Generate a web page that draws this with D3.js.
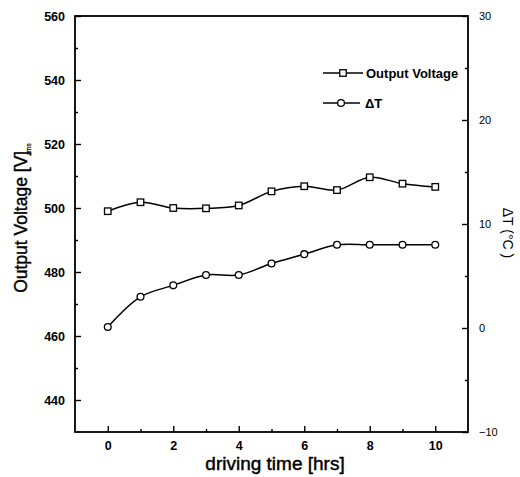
<!DOCTYPE html>
<html>
<head>
<meta charset="utf-8">
<script src="https://cdn.jsdelivr.net/npm/d3@7"></script>
<style>
  html, body { margin: 0; padding: 0; background: #fff; }
  svg { display: block; }
  text { font-family: "Liberation Sans", Arial, sans-serif; fill: #000; }
</style>
</head>
<body>
<svg id="chart" width="520" height="477"></svg>
<script>
// Driving time (hours)
const hours = [0, 1, 2, 3, 4, 5, 6, 7, 8, 9, 10];
// Output voltage, V rms (left axis)
const outputVoltage = [499.0, 501.8, 500.0, 499.9, 500.8, 505.2, 506.8, 505.6, 509.6, 507.6, 506.6];
// Temperature rise, °C (right axis)
const deltaT = [0.1, 3.0, 4.1, 5.1, 5.1, 6.2, 7.1, 8.0, 8.0, 8.0, 8.0];

const xTicks = [0, 2, 4, 6, 8, 10];
const xMinor = [1, 3, 5, 7, 9];
const yLeftTicks = [440, 460, 480, 500, 520, 540, 560];
const yLeftMinor = [450, 470, 490, 510, 530, 550];
const yRightTicks = [-10, 0, 10, 20, 30];
const yRightMinor = [-5, 5, 15, 25];

const svg = d3.select("#chart");

const x = d3.scaleLinear().domain([-1, 11]).range([75, 468]);
const yL = d3.scaleLinear().domain([430, 560]).range([432, 16]);
const yR = d3.scaleLinear().domain([-10, 30]).range([432, 16]);

const [x0, x1] = x.range();
const [yb, yt] = yL.range();

// plot frame
svg.append("rect")
  .attr("x", x0).attr("y", yt).attr("width", x1 - x0).attr("height", yb - yt)
  .attr("fill", "none").attr("stroke", "#000").attr("stroke-width", 1.8);

// bottom axis, ticks pointing inward
const gx = svg.append("g").attr("transform", `translate(0,${yb})`)
  .call(d3.axisBottom(x).tickValues(xTicks).tickSize(-6).tickPadding(9).tickFormat(d3.format("d")));
svg.append("g").attr("transform", `translate(0,${yb})`)
  .call(d3.axisBottom(x).tickValues(xMinor).tickSize(-3).tickFormat(""));

// left axis
const gyl = svg.append("g").attr("transform", `translate(${x0},0)`)
  .call(d3.axisLeft(yL).tickValues(yLeftTicks).tickSize(-6).tickPadding(10).tickFormat(d3.format("d")));
svg.append("g").attr("transform", `translate(${x0},0)`)
  .call(d3.axisLeft(yL).tickValues(yLeftMinor).tickSize(-3).tickFormat(""));

// right axis
const gyr = svg.append("g").attr("transform", `translate(${x1},0)`)
  .call(d3.axisRight(yR).tickValues(yRightTicks).tickSize(-6).tickPadding(11).tickFormat(d3.format("d")));
svg.append("g").attr("transform", `translate(${x1},0)`)
  .call(d3.axisRight(yR).tickValues(yRightMinor).tickSize(-3).tickFormat(""));

svg.selectAll(".domain").remove();
svg.selectAll(".tick line").attr("stroke", "#000").attr("stroke-width", 1.4);
svg.selectAll(".tick text").attr("fill", "#000");
gx.selectAll(".tick text").style("font-size", "12.5px").style("font-weight", "bold");
gyl.selectAll(".tick text").style("font-size", "12.5px").style("font-weight", "bold");
gyr.selectAll(".tick text").style("font-size", "11px");

// axis titles (regular face with a thin outline for a medium weight)
svg.append("text")
  .attr("x", 275).attr("y", 470)
  .attr("text-anchor", "middle")
  .attr("stroke", "#000").attr("stroke-width", 0.45)
  .style("font-size", "19px")
  .text("driving time [hrs]");

const leftTitle = svg.append("text")
  .attr("transform", `translate(27,218) rotate(-90)`)
  .attr("text-anchor", "middle")
  .attr("stroke", "#000").attr("stroke-width", 0.4)
  .style("font-size", "17.5px");
leftTitle.append("tspan").text("Output Voltage [V]");
leftTitle.append("tspan").attr("dx", -4).attr("dy", 4)
  .attr("stroke-width", 0.2).style("font-size", "7px").text("rms");

svg.append("text")
  .attr("transform", `translate(503,233) rotate(90)`)
  .attr("text-anchor", "middle")
  .style("font-size", "14px")
  .text("\u0394T (\u00B0C )");

// series
const line = (yScale, vals) => d3.line()
  .x((d, i) => x(hours[i]))
  .y(d => yScale(d))
  .curve(d3.curveCatmullRom.alpha(0.5))(vals);

svg.append("path").attr("d", line(yL, outputVoltage))
  .attr("fill", "none").attr("stroke", "#000").attr("stroke-width", 1.5);
svg.append("path").attr("d", line(yR, deltaT))
  .attr("fill", "none").attr("stroke", "#000").attr("stroke-width", 1.5);

const sq = 6.5;
svg.append("g").selectAll("rect").data(outputVoltage).join("rect")
  .attr("x", (d, i) => x(hours[i]) - sq / 2)
  .attr("y", d => yL(d) - sq / 2)
  .attr("width", sq).attr("height", sq)
  .attr("fill", "#fff").attr("stroke", "#000").attr("stroke-width", 1.3);

svg.append("g").selectAll("circle").data(deltaT).join("circle")
  .attr("cx", (d, i) => x(hours[i]))
  .attr("cy", d => yR(d))
  .attr("r", 3.4)
  .attr("fill", "#fff").attr("stroke", "#000").attr("stroke-width", 1.3);

// legend
const legend = svg.append("g");
legend.append("line").attr("x1", 323).attr("x2", 363).attr("y1", 73).attr("y2", 73)
  .attr("stroke", "#000").attr("stroke-width", 1.5);
legend.append("rect").attr("x", 343 - sq / 2).attr("y", 73 - sq / 2).attr("width", sq).attr("height", sq)
  .attr("fill", "#fff").attr("stroke", "#000").attr("stroke-width", 1.3);
legend.append("text").attr("x", 366).attr("y", 77.5)
  .style("font-size", "13px").style("font-weight", "bold").text("Output Voltage");

legend.append("line").attr("x1", 323).attr("x2", 360).attr("y1", 103).attr("y2", 103)
  .attr("stroke", "#000").attr("stroke-width", 1.5);
legend.append("circle").attr("cx", 341).attr("cy", 103).attr("r", 3.4)
  .attr("fill", "#fff").attr("stroke", "#000").attr("stroke-width", 1.3);
legend.append("text").attr("x", 365).attr("y", 107.5)
  .style("font-size", "13px").style("font-weight", "bold").text("\u0394T");
</script>
</body>
</html>
